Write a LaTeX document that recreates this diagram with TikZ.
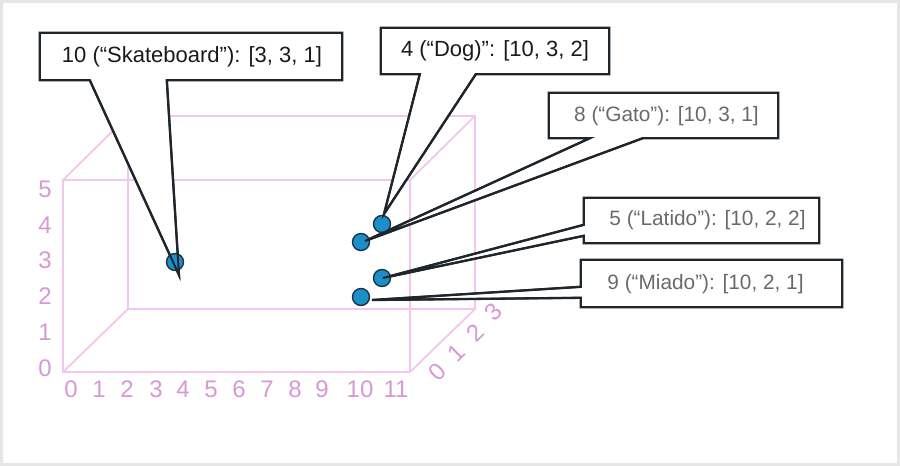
\documentclass[tikz,border=0pt]{standalone}
\usepackage{fontspec}
\setmainfont{Liberation Sans}
\usetikzlibrary{calc}
\definecolor{pinkline}{HTML}{F2C6EE}
\definecolor{pinktext}{HTML}{D699D6}
\definecolor{dotfill}{HTML}{1B8FC9}
\definecolor{dotline}{HTML}{1B3443}
\definecolor{boxline}{HTML}{1E252B}
\definecolor{graytext}{HTML}{6A6A6A}
\definecolor{blacktext}{HTML}{1A1A1A}
\definecolor{framegray}{HTML}{E6E6E6}
\begin{document}
\begin{tikzpicture}[x=1pt,y=-1pt,
  cube/.style={draw=pinkline, line width=1.8pt},
  axlab/.style={text=pinktext, font=\fontsize{24}{26}\selectfont, inner sep=0pt},
  dotnode/.style={circle, fill=dotfill, draw=dotline, line width=1.4pt, minimum size=17pt, inner sep=0pt},
  boxshape/.style={rectangle, inner sep=0pt},
  callout/.style={fill=white, draw=boxline, line width=2.3pt, line join=miter},
  pointer/.style={draw=boxline, line width=2pt, line join=miter},
  blk/.style={text=blacktext, font=\fontsize{22}{24}\selectfont, inner sep=0pt},
  gry/.style={text=graytext, font=\fontsize{20.8}{23}\selectfont, inner sep=0pt}]
\useasboundingbox (0,0) rectangle (900,466);
\fill[framegray] (0,0) rectangle (900,466);
\fill[white] (3,3) rectangle (897,463);

% cube
\coordinate (A) at (63,180);
\coordinate (B) at (410,180);
\coordinate (C) at (410,372);
\coordinate (D) at (63,372);
\coordinate (E) at (128,116);
\coordinate (F) at (475,116);
\coordinate (G) at (475,309);
\coordinate (H) at (128,309);
\draw[cube] (E) -- (F) -- (G) -- (H) -- cycle;
\draw[cube] (A) -- (B) -- (C) -- (D) -- cycle;
\draw[cube] (A) -- (E) (B) -- (F) (C) -- (G) (D) -- (H);

% y-axis labels
\node[axlab] (y0) at (45,368) {0};
\node[axlab] (y1) at (45,332) {1};
\node[axlab] (y2) at (45,296) {2};
\node[axlab] (y3) at (45,260) {3};
\node[axlab] (y4) at (45,225) {4};
\node[axlab] (y5) at (45,189) {5};
% x-axis labels
\node[axlab] (x0) at (71,389) {0};
\node[axlab] (x1) at (99,389) {1};
\node[axlab] (x2) at (127,389) {2};
\node[axlab] (x3) at (156,389) {3};
\node[axlab] (x4) at (183,389) {4};
\node[axlab] (x5) at (211,389) {5};
\node[axlab] (x6) at (239,389) {6};
\node[axlab] (x7) at (267,389) {7};
\node[axlab] (x8) at (295,389) {8};
\node[axlab] (x9) at (322,389) {9};
\node[axlab] (x10) at (360,389) {10};
\node[axlab] (x11) at (396,389) {11};
% z-axis labels
\node[axlab, rotate=45] (z0) at (437,372) {0};
\node[axlab, rotate=45] (z1) at (456,353) {1};
\node[axlab, rotate=45] (z2) at (475,333) {2};
\node[axlab, rotate=45] (z3) at (493,312) {3};

% callout boxes (shapes)
\node[boxshape, minimum width=302pt, minimum height=47pt] (skB) at (191,56.5) {};
\node[boxshape, minimum width=228pt, minimum height=46pt] (dgB) at (495,51) {};
\node[boxshape, minimum width=229pt, minimum height=45pt] (gtB) at (663.5,115.5) {};
\node[boxshape, minimum width=235pt, minimum height=45pt] (ltB) at (701.5,220.5) {};
\node[boxshape, minimum width=261pt, minimum height=47pt] (mdB) at (711.5,283.5) {};

% pointer tips and bases
\coordinate (skTip) at (179,275);
\coordinate (dgTip) at (384,214);
\coordinate (gtTip) at (365,241);
\coordinate (ltTip) at (383,278);
\coordinate (mdTip) at (372,300);
\coordinate (skL) at ($(skB.south west)+(50,0)$);
\coordinate (skR) at ($(skB.south west)+(127,0)$);
\coordinate (dgL) at ($(dgB.south west)+(39,0)$);
\coordinate (dgR) at ($(dgB.south west)+(95,0)$);
\coordinate (gtL) at ($(gtB.south west)+(41,0)$);
\coordinate (gtR) at ($(gtB.south west)+(94,0)$);
\coordinate (ltU) at ($(ltB.north west)+(0,27)$);
\coordinate (ltD) at ($(ltB.north west)+(0,38)$);
\coordinate (mdU) at ($(mdB.north west)+(0,27)$);
\coordinate (mdD) at ($(mdB.north west)+(0,38)$);

\path[callout] (skB.north west) -- (skB.north east) -- (skB.south east) -- (skR) -- (skTip) -- (skL) -- (skB.south west) -- cycle;
\path[callout] (dgB.north west) -- (dgB.north east) -- (dgB.south east) -- (dgR) -- (dgTip) -- (dgL) -- (dgB.south west) -- cycle;
\path[callout] (gtB.north west) -- (gtB.north east) -- (gtB.south east) -- (gtR) -- (gtTip) -- (gtL) -- (gtB.south west) -- cycle;
\path[callout] (ltB.north west) -- (ltB.north east) -- (ltB.south east) -- (ltB.south west) -- (ltD) -- (ltTip) -- (ltU) -- cycle;
\path[callout] (mdB.north west) -- (mdB.north east) -- (mdB.south east) -- (mdB.south west) -- (mdD) -- (mdTip) -- (mdU) -- cycle;

% texts
\node[blk] (skT) at (192,57) {10 (“Skateboard”): [3, 3, 1]};
\node[blk] (dgT) at (495,51) {4 (“Dog)”: [10, 3, 2]};
\node[gry] (gtT) at (666.5,116) {8 (“Gato”): [10, 3, 1]};
\node[gry] (ltT) at (707.5,220.5) {5 (“Latido”): [10, 2, 2]};
\node[gry] (mdT) at (705.5,284) {9 (“Miado”): [10, 2, 1]};

% data points
\node[dotnode] (p10) at (175,262) {};
\node[dotnode] (p4) at (382,224) {};
\node[dotnode] (p8) at (361,242) {};
\node[dotnode] (p5) at (382,278) {};
\node[dotnode] (p9) at (361,297) {};

% pointer lines over the dots
\draw[pointer] (skL) -- (skTip) -- (skR);
\draw[pointer] (dgL) -- (dgTip) -- (dgR);
\draw[pointer] (gtL) -- (gtTip) -- (gtR);
\draw[pointer] (ltU) -- (ltTip) -- (ltD);
\draw[pointer] (mdU) -- (mdTip) -- (mdD);
\end{tikzpicture}
\end{document}
